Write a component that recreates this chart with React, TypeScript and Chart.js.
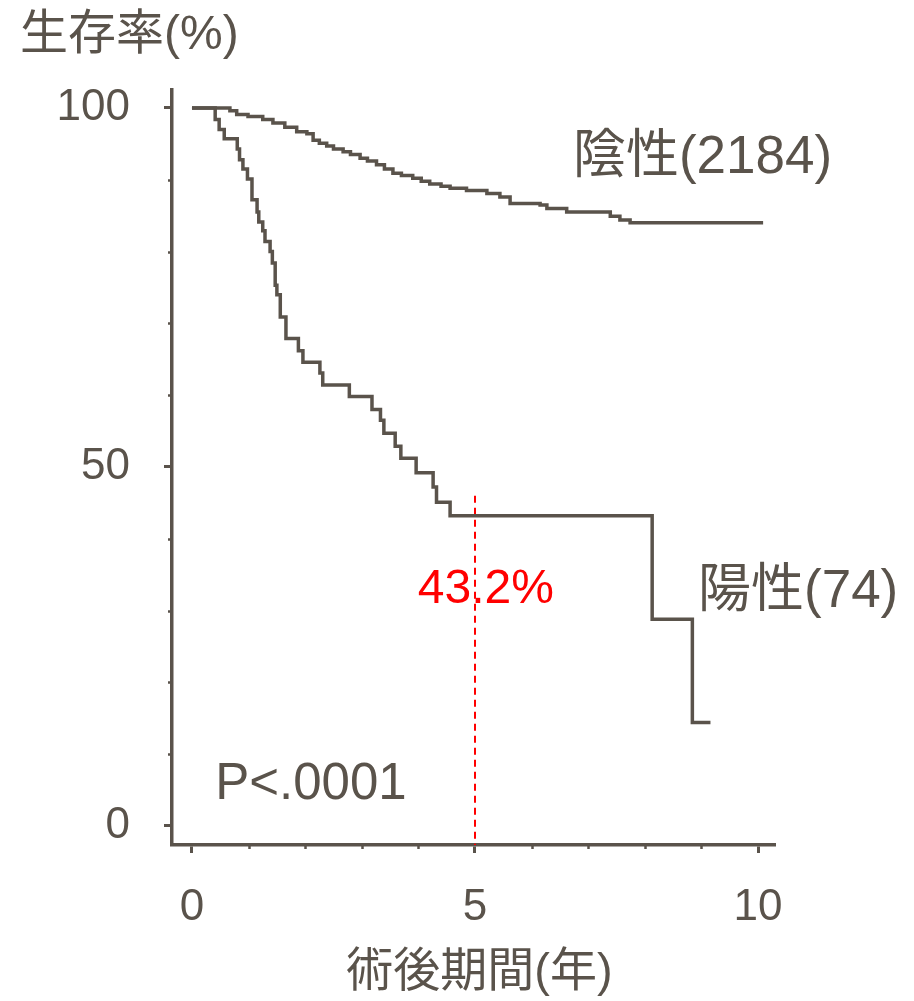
import { useEffect, useRef } from 'react';
import { Chart, registerables } from 'chart.js';

Chart.register(...registerables);

const INK = 'rgb(90,83,75)';
const RED = '#ff0000';
const FONT = '"Liberation Sans", "Noto Sans CJK JP", sans-serif';

// 陰性 (negative) survival curve: time (years) and survival (%) after each step
const NEG_T = [0, 0.67, 0.79, 0.99, 1.25, 1.43, 1.64, 1.85, 2.03, 2.14, 2.25, 2.38, 2.5, 2.67, 2.8, 2.97, 3.1, 3.26, 3.4, 3.55, 3.7, 3.9, 4.05, 4.2, 4.4, 4.56, 4.85, 5.21, 5.44, 5.62, 6.15, 6.27, 6.62, 7.39, 7.56, 7.74, 10.09];
const NEG_S = [100, 99.6, 99.1, 98.8, 98.4, 97.9, 97.3, 96.7, 96.4, 95.5, 95.1, 94.7, 94.3, 93.9, 93.5, 93.0, 92.6, 92.1, 91.5, 90.9, 90.6, 90.2, 89.8, 89.4, 89.1, 88.8, 88.5, 88.1, 87.6, 86.7, 86.5, 86.0, 85.5, 84.9, 84.4, 84.0, 84.0];

// 陽性 (positive) survival curve
const POS_T = [0, 0.41, 0.48, 0.57, 0.80, 0.84, 0.90, 0.98, 1.06, 1.15, 1.18, 1.25, 1.29, 1.38, 1.42, 1.47, 1.50, 1.56, 1.66, 1.88, 1.96, 2.26, 2.31, 2.78, 3.18, 3.33, 3.39, 3.59, 3.69, 3.96, 4.26, 4.32, 4.56, 8.13, 8.84, 9.16];
const POS_S = [100, 98.4, 97.0, 95.7, 94.3, 92.8, 91.5, 90.1, 87.2, 85.5, 84.1, 82.9, 81.4, 80.0, 78.4, 75.3, 74.0, 70.9, 67.9, 66.2, 64.6, 63.1, 61.4, 59.8, 58.0, 56.5, 54.7, 52.9, 51.2, 49.2, 47.2, 45.1, 43.2, 28.8, 14.4, 14.4];

const X_MAJOR = [0, 5, 10];
const X_MINOR = [1, 2, 3, 4, 6, 7, 8, 9];
const Y_MAJOR = [0, 50, 100];
const Y_MINOR = [10, 20, 30, 40, 60, 70, 80, 90];

const X_MIN = -0.353;
const X_MAX = 10.3;
const Y_MIN = -2.65;
const Y_MAX = 102.5;

const MARK_T = 5;
const MARK_TOP = 46;

const NEG_LABEL = '陰性(2184)';
const POS_LABEL = '陽性(74)';
const P_LABEL = 'P<.0001';
const MARK_LABEL = '43.2%';
const Y_TITLE = '生存率(%)';
const X_TITLE = '術後期間(年)';

export default function App() {
  const ref = useRef<HTMLCanvasElement | null>(null);

  useEffect(() => {
    if (!ref.current) return;

    const minorTicks = {
      id: 'minorTicks',
      afterDraw(chart: any) {
        const { ctx, chartArea, scales } = chart;
        ctx.save();
        ctx.strokeStyle = INK;
        ctx.lineWidth = 2.5;
        Y_MINOR.forEach((v) => {
          const py = Math.round(scales.y.getPixelForValue(v)) + 0.5;
          ctx.beginPath();
          ctx.moveTo(chartArea.left, py);
          ctx.lineTo(chartArea.left - 4, py);
          ctx.stroke();
        });
        X_MINOR.forEach((v) => {
          const px = Math.round(scales.x.getPixelForValue(v)) + 0.5;
          ctx.beginPath();
          ctx.moveTo(px, chartArea.bottom);
          ctx.lineTo(px, chartArea.bottom + 4);
          ctx.stroke();
        });

        const txt = (s: string, x: number, y: number, size: number, color: string, align: CanvasTextAlign = 'left') => {
          ctx.font = `${size}px ${FONT}`;
          ctx.fillStyle = color;
          ctx.textAlign = align;
          ctx.textBaseline = 'middle';
          ctx.fillText(s, x, y);
        };
        const X = (t: number) => scales.x.getPixelForValue(t);
        const Y = (s: number) => scales.y.getPixelForValue(s);

        txt(NEG_LABEL, X(6.73), Y(93.0), 53, INK);
        txt(POS_LABEL, X(8.94), Y(32.6), 53, INK);
        txt(P_LABEL, X(0.41), Y(5.7), 51, INK);
        txt(MARK_LABEL, X(3.99), Y(32.9), 48, RED);
        txt(Y_TITLE, 20, 36, 48, INK);
        txt(X_TITLE, (chartArea.left + chartArea.right) / 2 + 6, 973, 47, INK, 'center');
        ctx.restore();
      },
    };

    const chart = new Chart(ref.current, {
      type: 'line',
      data: {
        datasets: [
          {
            label: '陰性',
            data: NEG_T.map((t, i) => ({ x: t, y: NEG_S[i] })),
            borderColor: INK,
            borderWidth: 3.5,
            stepped: 'before',
            pointRadius: 0,
            fill: false,
          },
          {
            label: '陽性',
            data: POS_T.map((t, i) => ({ x: t, y: POS_S[i] })),
            borderColor: INK,
            borderWidth: 3.5,
            stepped: 'before',
            pointRadius: 0,
            fill: false,
          },
          {
            label: 'mark',
            data: [
              { x: MARK_T, y: MARK_TOP },
              { x: MARK_T, y: Y_MIN },
            ],
            borderColor: RED,
            borderWidth: 2,
            borderDash: [7, 5],
            pointRadius: 0,
            fill: false,
          },
        ],
      },
      options: {
        animation: false,
        responsive: false,
        maintainAspectRatio: false,
        layout: { padding: { top: 90, right: 139, left: 0, bottom: 0 } },
        plugins: { legend: { display: false }, tooltip: { enabled: false }, title: { display: false } },
        scales: {
          x: {
            type: 'linear',
            min: X_MIN,
            max: X_MAX,
            afterBuildTicks: (s: any) => {
              s.ticks = X_MAJOR.map((v) => ({ value: v }));
            },
            afterFit: (s: any) => {
              s.height = 156;
            },
            border: { display: true, color: INK, width: 3.5 },
            grid: { display: true, drawOnChartArea: false, drawTicks: true, tickLength: 8, tickWidth: 3, tickColor: INK, color: INK },
            ticks: {
              color: INK,
              font: { family: FONT, size: 44 },
              padding: 28,
              maxRotation: 0,
              autoSkip: false,
              callback: (v: any) => String(v),
            },
          },
          y: {
            type: 'linear',
            min: Y_MIN,
            max: Y_MAX,
            afterBuildTicks: (s: any) => {
              s.ticks = Y_MAJOR.map((v) => ({ value: v }));
            },
            afterFit: (s: any) => {
              s.width = 172;
            },
            border: { display: true, color: INK, width: 3.5 },
            grid: { display: true, drawOnChartArea: false, drawTicks: true, tickLength: 8, tickWidth: 3, tickColor: INK, color: INK },
            ticks: {
              color: INK,
              font: { family: FONT, size: 44 },
              padding: 34,
              autoSkip: false,
              callback: (v: any) => String(v),
            },
          },
        },
      },
      plugins: [minorTicks],
    });
    return () => chart.destroy();
  }, []);

  return (
    <div style={{ position: 'absolute', left: 0, top: 0, width: 914, height: 1001, background: '#fff' }}>
      <canvas ref={ref} width={914} height={1001} style={{ width: 914, height: 1001, display: 'block' }} />
    </div>
  );
}
